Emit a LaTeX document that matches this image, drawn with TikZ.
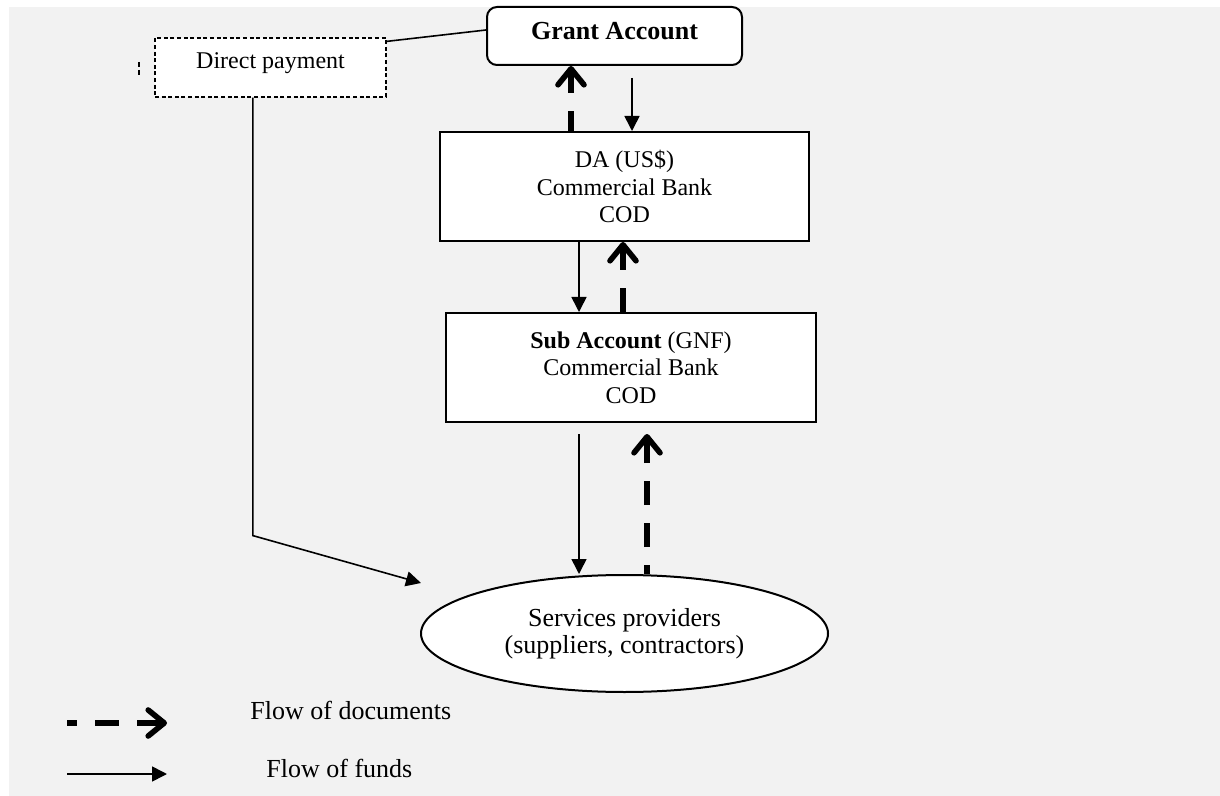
\documentclass[tikz,border=0pt]{standalone}
\usepackage{fontspec}
\setmainfont{Liberation Serif}
\usetikzlibrary{arrows.meta,shapes.geometric,calc}
\definecolor{bggray}{HTML}{F2F2F2}
\begin{document}
\begin{tikzpicture}[x=0.5pt,y=-0.5pt,
  box/.style={draw, line width=1pt, fill=white, inner sep=0pt, align=center, font=\fontsize{12}{13.75}\selectfont},
  dpbox/.style={draw, line width=0.6pt, dash pattern=on 2pt off 1.3pt, fill=white, inner sep=0pt, font=\fontsize{12}{14}\selectfont},
  fund/.style={line width=0.8pt, -{Triangle[length=7.5pt,width=7.5pt]}},
  plainline/.style={line width=0.8pt},
  docs/.style={line width=2.8pt, dash pattern=on 12pt off 9pt, -{Straight Barb[round,length=8pt,width=13pt]}},
  legendtext/.style={anchor=base west, inner sep=0pt, font=\fontsize{13}{15}\selectfont}
]
\useasboundingbox (0,0) rectangle (1220,796);
\fill[white] (0,0) rectangle (1220,796);
\fill[bggray] (9,7) rectangle (1220,796);

% nodes
\node[box, rounded corners=5pt, minimum width=127.5pt, minimum height=29pt, font=\fontsize{13}{15}\selectfont\bfseries, text depth=4.8pt] (ga) at (614.5,36) {Grant Account};
\node[dpbox, minimum width=115.5pt, minimum height=29.5pt, text depth=6.7pt] (dp) at (270.5,67.5) {Direct payment};
\node[box, minimum width=184.5pt, minimum height=54.5pt] (da) at (624.5,186.5) {DA (US\$)\\Commercial Bank\\COD};
\node[box, minimum width=185pt, minimum height=54.5pt] (sub) at (631,367.5) {\textbf{Sub Account} (GNF)\\Commercial Bank\\COD};
\node[box, ellipse, minimum width=203.5pt, minimum height=58.5pt, font=\fontsize{13}{13.5}\selectfont] (sp) at (624.5,633.5) {Services providers\\(suppliers, contractors)};

% stray dashed mark
\draw[line width=0.6pt, dash pattern=on 2.5pt off 1.5pt] (139,62) -- (139,75);

% columns
\coordinate (c1) at (632,0);
\coordinate (c2) at (571,0);
\coordinate (c3) at (579,0);
\coordinate (c4) at (623,0);
\coordinate (c5) at (579,0);
\coordinate (c6) at (647,0);

% vertical connectors
\draw[fund] ($(ga.south -| c1)+(0,12)$) -- (da.north -| c1);
\draw[docs, dash phase=2pt] (da.north -| c2) -- (ga.south -| c2);
\draw[fund] (da.south -| c3) -- (sub.north -| c3);
\draw[docs] (sub.north -| c4) -- (da.south -| c4);
\draw[fund] ($(sub.south -| c5)+(0,11)$) -- (sp.north -| c5);
\draw[docs, dash phase=7.5pt] (sp.north -| c6) -- ($(sub.south -| c6)+(0,11)$);

% direct payment connectors
\draw[plainline] ($(dp.north east)+(0,4)$) -- ($(ga.west)+(0,-6)$);
\coordinate (dpb) at ($(dp.south west)!0.424!(dp.south east)$);
\coordinate (bend) at ($(dpb)+(0,438)$);
\coordinate (dpend) at (421,583);
\draw[fund] (dpb) -- (bend) -- (dpend);

% legend
\coordinate (l1a) at (67,723);
\coordinate (l1b) at (167,723);
\coordinate (l2a) at (67,774);
\coordinate (l2b) at (167,774);
\draw[docs, dash phase=7pt] (l1a) -- (l1b);
\draw[fund] (l2a) -- (l2b);
\node[legendtext] (t1) at (250,719) {Flow of documents};
\node[legendtext] (t2) at (266,777) {Flow of funds};
\end{tikzpicture}
\end{document}
